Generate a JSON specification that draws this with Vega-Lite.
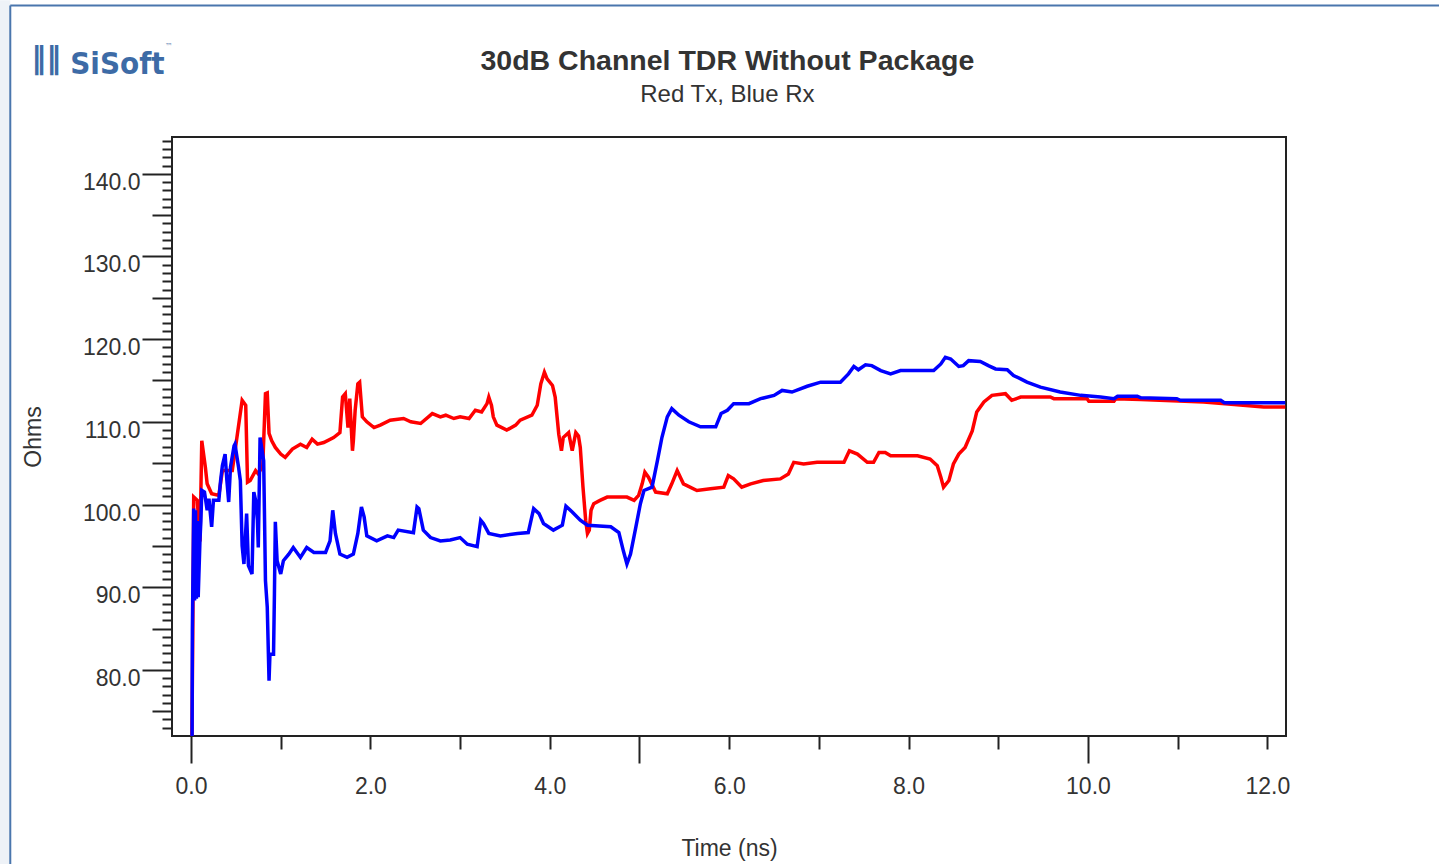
{
  "$schema": "https://vega.github.io/schema/vega-lite/v6.json",
  "width": 1114,
  "height": 599,
  "autosize": {"type": "none"},
  "padding": {"left": 172, "top": 137, "right": 153, "bottom": 128},
  "background": "#ffffff",
  "config": {"view": {"stroke": "#222222", "strokeWidth": 2}},
  "datasets": {
    "tx": [
      {"t": 0.01, "ohms": 72.0}, {"t": 0.02, "ohms": 85.0}, {"t": 0.03, "ohms": 100.9}, {"t": 0.07, "ohms": 100.5},
      {"t": 0.10, "ohms": 95.5}, {"t": 0.12, "ohms": 107.7}, {"t": 0.16, "ohms": 104.5}, {"t": 0.18, "ohms": 102.5},
      {"t": 0.23, "ohms": 101.3}, {"t": 0.31, "ohms": 101.1}, {"t": 0.35, "ohms": 104.1}, {"t": 0.46, "ohms": 104.1},
      {"t": 0.57, "ohms": 112.6}, {"t": 0.61, "ohms": 112.0}, {"t": 0.62, "ohms": 107.4}, {"t": 0.63, "ohms": 102.7},
      {"t": 0.66, "ohms": 102.9}, {"t": 0.72, "ohms": 104.1}, {"t": 0.75, "ohms": 103.7}, {"t": 0.80, "ohms": 104.7},
      {"t": 0.83, "ohms": 113.4}, {"t": 0.85, "ohms": 113.5}, {"t": 0.87, "ohms": 108.6}, {"t": 0.90, "ohms": 107.7},
      {"t": 0.94, "ohms": 106.9}, {"t": 1.00, "ohms": 106.1}, {"t": 1.05, "ohms": 105.7}, {"t": 1.13, "ohms": 106.7},
      {"t": 1.22, "ohms": 107.3}, {"t": 1.29, "ohms": 106.9}, {"t": 1.35, "ohms": 107.9}, {"t": 1.41, "ohms": 107.3},
      {"t": 1.48, "ohms": 107.5}, {"t": 1.59, "ohms": 108.1}, {"t": 1.66, "ohms": 108.7}, {"t": 1.69, "ohms": 113.0},
      {"t": 1.72, "ohms": 113.4}, {"t": 1.75, "ohms": 109.3}, {"t": 1.77, "ohms": 112.8}, {"t": 1.80, "ohms": 106.5},
      {"t": 1.81, "ohms": 107.7}, {"t": 1.83, "ohms": 111.4}, {"t": 1.86, "ohms": 114.6}, {"t": 1.88, "ohms": 114.8},
      {"t": 1.91, "ohms": 110.6}, {"t": 1.96, "ohms": 110.0}, {"t": 2.04, "ohms": 109.3}, {"t": 2.11, "ohms": 109.6},
      {"t": 2.22, "ohms": 110.2}, {"t": 2.37, "ohms": 110.4}, {"t": 2.45, "ohms": 110.0}, {"t": 2.56, "ohms": 109.8},
      {"t": 2.69, "ohms": 111.0}, {"t": 2.78, "ohms": 110.6}, {"t": 2.84, "ohms": 110.8}, {"t": 2.93, "ohms": 110.4},
      {"t": 3.00, "ohms": 110.6}, {"t": 3.10, "ohms": 110.4}, {"t": 3.17, "ohms": 111.4}, {"t": 3.24, "ohms": 111.2},
      {"t": 3.30, "ohms": 112.2}, {"t": 3.32, "ohms": 113.0}, {"t": 3.35, "ohms": 112.0}, {"t": 3.37, "ohms": 110.6},
      {"t": 3.41, "ohms": 109.6}, {"t": 3.52, "ohms": 109.0}, {"t": 3.62, "ohms": 109.6}, {"t": 3.67, "ohms": 110.2},
      {"t": 3.80, "ohms": 110.8}, {"t": 3.86, "ohms": 112.0}, {"t": 3.90, "ohms": 114.6}, {"t": 3.94, "ohms": 116.0},
      {"t": 3.97, "ohms": 115.2}, {"t": 4.03, "ohms": 114.4}, {"t": 4.06, "ohms": 113.0}, {"t": 4.10, "ohms": 108.5},
      {"t": 4.13, "ohms": 106.5}, {"t": 4.15, "ohms": 108.1}, {"t": 4.21, "ohms": 108.7}, {"t": 4.25, "ohms": 106.5},
      {"t": 4.29, "ohms": 108.7}, {"t": 4.32, "ohms": 108.3}, {"t": 4.34, "ohms": 106.9}, {"t": 4.37, "ohms": 102.1},
      {"t": 4.40, "ohms": 98.1}, {"t": 4.42, "ohms": 96.5}, {"t": 4.44, "ohms": 96.9}, {"t": 4.46, "ohms": 99.3},
      {"t": 4.49, "ohms": 100.1}, {"t": 4.56, "ohms": 100.5}, {"t": 4.64, "ohms": 100.9}, {"t": 4.86, "ohms": 100.9},
      {"t": 4.94, "ohms": 100.5}, {"t": 4.99, "ohms": 101.1}, {"t": 5.03, "ohms": 102.5}, {"t": 5.06, "ohms": 103.9},
      {"t": 5.10, "ohms": 103.3}, {"t": 5.18, "ohms": 101.5}, {"t": 5.31, "ohms": 101.3}, {"t": 5.36, "ohms": 102.5},
      {"t": 5.42, "ohms": 104.1}, {"t": 5.49, "ohms": 102.5}, {"t": 5.64, "ohms": 101.7}, {"t": 5.79, "ohms": 101.9},
      {"t": 5.94, "ohms": 102.1}, {"t": 5.99, "ohms": 103.5}, {"t": 6.05, "ohms": 103.1}, {"t": 6.14, "ohms": 102.1},
      {"t": 6.24, "ohms": 102.5}, {"t": 6.38, "ohms": 102.9}, {"t": 6.57, "ohms": 103.1}, {"t": 6.66, "ohms": 103.7},
      {"t": 6.72, "ohms": 105.1}, {"t": 6.83, "ohms": 104.9}, {"t": 6.98, "ohms": 105.1}, {"t": 7.28, "ohms": 105.1},
      {"t": 7.34, "ohms": 106.5}, {"t": 7.43, "ohms": 106.1}, {"t": 7.54, "ohms": 105.1}, {"t": 7.61, "ohms": 105.1},
      {"t": 7.67, "ohms": 106.3}, {"t": 7.74, "ohms": 106.3}, {"t": 7.80, "ohms": 105.9}, {"t": 8.10, "ohms": 105.9},
      {"t": 8.24, "ohms": 105.5}, {"t": 8.32, "ohms": 104.7}, {"t": 8.36, "ohms": 103.3}, {"t": 8.39, "ohms": 102.1},
      {"t": 8.45, "ohms": 102.9}, {"t": 8.50, "ohms": 104.9}, {"t": 8.56, "ohms": 106.1}, {"t": 8.63, "ohms": 106.9},
      {"t": 8.71, "ohms": 108.9}, {"t": 8.76, "ohms": 111.2}, {"t": 8.84, "ohms": 112.4}, {"t": 8.93, "ohms": 113.2},
      {"t": 9.08, "ohms": 113.4}, {"t": 9.15, "ohms": 112.6}, {"t": 9.25, "ohms": 113.0}, {"t": 9.58, "ohms": 113.0},
      {"t": 9.62, "ohms": 112.8}, {"t": 9.99, "ohms": 112.8}, {"t": 10.01, "ohms": 112.5}, {"t": 10.29, "ohms": 112.5},
      {"t": 10.31, "ohms": 112.8}, {"t": 10.59, "ohms": 112.7}, {"t": 11.29, "ohms": 112.4}, {"t": 11.63, "ohms": 112.1},
      {"t": 11.96, "ohms": 111.8}, {"t": 12.20, "ohms": 111.8}
    ],
    "rx": [
      {"t": 0.012, "ohms": 72.0}, {"t": 0.015, "ohms": 84.8}, {"t": 0.03, "ohms": 99.5}, {"t": 0.04, "ohms": 88.4},
      {"t": 0.05, "ohms": 99.3}, {"t": 0.06, "ohms": 88.6}, {"t": 0.07, "ohms": 98.0}, {"t": 0.08, "ohms": 88.8},
      {"t": 0.10, "ohms": 95.7}, {"t": 0.11, "ohms": 98.0}, {"t": 0.12, "ohms": 101.7}, {"t": 0.15, "ohms": 101.5},
      {"t": 0.18, "ohms": 99.3}, {"t": 0.20, "ohms": 100.7}, {"t": 0.23, "ohms": 97.3}, {"t": 0.25, "ohms": 100.5},
      {"t": 0.31, "ohms": 100.5}, {"t": 0.33, "ohms": 102.9}, {"t": 0.35, "ohms": 104.7}, {"t": 0.38, "ohms": 106.1},
      {"t": 0.40, "ohms": 102.9}, {"t": 0.42, "ohms": 100.3}, {"t": 0.44, "ohms": 104.5}, {"t": 0.48, "ohms": 107.1},
      {"t": 0.49, "ohms": 107.3}, {"t": 0.53, "ohms": 104.5}, {"t": 0.55, "ohms": 102.9}, {"t": 0.57, "ohms": 95.0},
      {"t": 0.59, "ohms": 92.8}, {"t": 0.61, "ohms": 96.8}, {"t": 0.62, "ohms": 98.9}, {"t": 0.64, "ohms": 92.6},
      {"t": 0.68, "ohms": 91.6}, {"t": 0.70, "ohms": 101.5}, {"t": 0.72, "ohms": 100.5}, {"t": 0.74, "ohms": 98.1},
      {"t": 0.75, "ohms": 94.8}, {"t": 0.77, "ohms": 108.1}, {"t": 0.81, "ohms": 105.3}, {"t": 0.83, "ohms": 90.8},
      {"t": 0.85, "ohms": 87.6}, {"t": 0.87, "ohms": 78.7}, {"t": 0.88, "ohms": 81.9}, {"t": 0.92, "ohms": 81.9},
      {"t": 0.93, "ohms": 89.2}, {"t": 0.94, "ohms": 97.9}, {"t": 0.96, "ohms": 93.2}, {"t": 1.00, "ohms": 91.6},
      {"t": 1.03, "ohms": 93.2}, {"t": 1.09, "ohms": 94.0}, {"t": 1.14, "ohms": 94.8}, {"t": 1.22, "ohms": 93.6},
      {"t": 1.29, "ohms": 94.8}, {"t": 1.37, "ohms": 94.2}, {"t": 1.50, "ohms": 94.2}, {"t": 1.55, "ohms": 95.6},
      {"t": 1.58, "ohms": 99.3}, {"t": 1.61, "ohms": 96.5}, {"t": 1.66, "ohms": 94.0}, {"t": 1.74, "ohms": 93.6},
      {"t": 1.81, "ohms": 94.0}, {"t": 1.86, "ohms": 96.5}, {"t": 1.90, "ohms": 99.7}, {"t": 1.93, "ohms": 98.5},
      {"t": 1.96, "ohms": 96.2}, {"t": 2.07, "ohms": 95.6}, {"t": 2.19, "ohms": 96.2}, {"t": 2.26, "ohms": 96.0},
      {"t": 2.31, "ohms": 96.9}, {"t": 2.48, "ohms": 96.6}, {"t": 2.52, "ohms": 99.7}, {"t": 2.54, "ohms": 99.5},
      {"t": 2.59, "ohms": 96.9}, {"t": 2.67, "ohms": 96.0}, {"t": 2.78, "ohms": 95.6}, {"t": 2.89, "ohms": 95.7},
      {"t": 3.00, "ohms": 96.0}, {"t": 3.08, "ohms": 95.2}, {"t": 3.19, "ohms": 94.9}, {"t": 3.23, "ohms": 98.1},
      {"t": 3.26, "ohms": 97.7}, {"t": 3.32, "ohms": 96.5}, {"t": 3.45, "ohms": 96.2}, {"t": 3.64, "ohms": 96.5},
      {"t": 3.76, "ohms": 96.6}, {"t": 3.82, "ohms": 99.5}, {"t": 3.88, "ohms": 98.9}, {"t": 3.93, "ohms": 97.7},
      {"t": 4.04, "ohms": 96.9}, {"t": 4.14, "ohms": 97.5}, {"t": 4.18, "ohms": 99.8}, {"t": 4.25, "ohms": 99.1},
      {"t": 4.34, "ohms": 98.1}, {"t": 4.42, "ohms": 97.5}, {"t": 4.68, "ohms": 97.3}, {"t": 4.77, "ohms": 96.6},
      {"t": 4.82, "ohms": 94.4}, {"t": 4.86, "ohms": 92.8}, {"t": 4.90, "ohms": 94.0}, {"t": 4.96, "ohms": 97.3},
      {"t": 5.01, "ohms": 100.1}, {"t": 5.05, "ohms": 101.7}, {"t": 5.14, "ohms": 102.1}, {"t": 5.20, "ohms": 105.3},
      {"t": 5.25, "ohms": 108.1}, {"t": 5.31, "ohms": 110.6}, {"t": 5.36, "ohms": 111.6}, {"t": 5.44, "ohms": 110.8},
      {"t": 5.55, "ohms": 110.0}, {"t": 5.68, "ohms": 109.4}, {"t": 5.85, "ohms": 109.4}, {"t": 5.91, "ohms": 111.0},
      {"t": 5.98, "ohms": 111.4}, {"t": 6.05, "ohms": 112.2}, {"t": 6.22, "ohms": 112.2}, {"t": 6.35, "ohms": 112.8},
      {"t": 6.50, "ohms": 113.2}, {"t": 6.59, "ohms": 113.8}, {"t": 6.70, "ohms": 113.6}, {"t": 6.87, "ohms": 114.3},
      {"t": 7.02, "ohms": 114.8}, {"t": 7.24, "ohms": 114.8}, {"t": 7.33, "ohms": 115.8}, {"t": 7.39, "ohms": 116.7},
      {"t": 7.44, "ohms": 116.3}, {"t": 7.52, "ohms": 116.9}, {"t": 7.59, "ohms": 116.8}, {"t": 7.69, "ohms": 116.2},
      {"t": 7.80, "ohms": 115.8}, {"t": 7.91, "ohms": 116.2}, {"t": 8.28, "ohms": 116.2}, {"t": 8.36, "ohms": 117.0},
      {"t": 8.41, "ohms": 117.8}, {"t": 8.47, "ohms": 117.6}, {"t": 8.56, "ohms": 116.7}, {"t": 8.61, "ohms": 116.8},
      {"t": 8.67, "ohms": 117.4}, {"t": 8.80, "ohms": 117.3}, {"t": 8.89, "ohms": 116.8}, {"t": 8.97, "ohms": 116.4},
      {"t": 9.10, "ohms": 116.3}, {"t": 9.17, "ohms": 115.6}, {"t": 9.25, "ohms": 115.2}, {"t": 9.32, "ohms": 114.8},
      {"t": 9.47, "ohms": 114.2}, {"t": 9.69, "ohms": 113.6}, {"t": 9.92, "ohms": 113.2}, {"t": 10.14, "ohms": 113.0},
      {"t": 10.29, "ohms": 112.8}, {"t": 10.33, "ohms": 113.1}, {"t": 10.55, "ohms": 113.1}, {"t": 10.59, "ohms": 112.9},
      {"t": 10.99, "ohms": 112.8}, {"t": 11.03, "ohms": 112.6}, {"t": 11.48, "ohms": 112.6}, {"t": 11.52, "ohms": 112.3},
      {"t": 12.20, "ohms": 112.3}
    ]
  },
  "layer": [
    {
      "data": {"values": [{}]},
      "mark": {"type": "rect", "fill": "#eef2f7"},
      "encoding": {
        "x": {"datum": -2.13, "type": "quantitative"},
        "x2": {"datum": -2.015},
        "y": {"datum": 161.0, "type": "quantitative"},
        "y2": {"datum": 56.4}
      }
    },
    {
      "data": {"values": [{}]},
      "mark": {"type": "rule", "color": "#4a76ad", "strokeWidth": 2},
      "encoding": {
        "x": {"datum": -2.015, "type": "quantitative"},
        "y": {"datum": 160.36, "type": "quantitative"},
        "y2": {"datum": 56.4}
      }
    },
    {
      "data": {"values": [{}]},
      "mark": {"type": "rule", "color": "#4a76ad", "strokeWidth": 2},
      "encoding": {
        "x": {"datum": -2.015, "type": "quantitative"},
        "x2": {"datum": 13.92},
        "y": {"datum": 160.36, "type": "quantitative"}
      }
    },
    {
      "data": {"name": "tx"},
      "mark": {"type": "line", "color": "#ff0000", "strokeWidth": 3.5, "clip": true},
      "encoding": {
        "x": {
          "field": "t",
          "type": "quantitative",
          "scale": {"domain": [-0.212, 12.208], "nice": false, "zero": false},
          "axis": {
            "values": [0, 1, 2, 3, 4, 5, 6, 7, 8, 9, 10, 11, 12],
            "tickCount": 200,
            "labelExpr": "datum.value % 2 === 0 ? format(datum.value, '.1f') : ''",
            "tickSize": {"condition": {"test": "datum.value % 5 === 0", "value": 27}, "value": 13},
            "labelPadding": {"condition": {"test": "datum.value % 5 === 0", "value": 30}, "value": 44},
            "labelBaseline": "alphabetic",
            "labelFont": "Liberation Sans",
            "labelFontSize": 23,
            "labelColor": "#333333",
            "labelFlush": false,
            "labelOverlap": false,
            "tickColor": "#222222",
            "tickWidth": 2,
            "domain": false,
            "grid": false,
            "title": "Time (ns)",
            "titleFont": "Liberation Sans",
            "titleFontSize": 23,
            "titleFontWeight": "normal",
            "titleColor": "#333333",
            "titleX": 557,
            "titleY": 112,
            "titleAlign": "center",
            "titleBaseline": "middle"
          }
        },
        "y": {
          "field": "ohms",
          "type": "quantitative",
          "scale": {"domain": [72, 144.45], "nice": false, "zero": false},
          "axis": {
            "values": [73, 74, 75, 76, 77, 78, 79, 80, 81, 82, 83, 84, 85, 86, 87, 88, 89, 90, 91, 92, 93, 94, 95, 96, 97, 98, 99, 100, 101, 102, 103, 104, 105, 106, 107, 108, 109, 110, 111, 112, 113, 114, 115, 116, 117, 118, 119, 120, 121, 122, 123, 124, 125, 126, 127, 128, 129, 130, 131, 132, 133, 134, 135, 136, 137, 138, 139, 140, 141, 142, 143, 144],
            "tickCount": 500,
            "labelExpr": "datum.value % 10 === 0 ? format(datum.value, '.1f') : ''",
            "tickSize": {"condition": [{"test": "datum.value % 10 === 0", "value": 30}, {"test": "datum.value % 5 === 0", "value": 20}], "value": 10},
            "labelPadding": 2,
            "labelBaseline": "alphabetic",
            "labelOffset": 15.5,
            "labelFont": "Liberation Sans",
            "labelFontSize": 23,
            "labelColor": "#333333",
            "labelFlush": false,
            "labelOverlap": false,
            "tickColor": "#222222",
            "tickWidth": 2,
            "domain": false,
            "grid": false,
            "title": "Ohms",
            "titleFont": "Liberation Sans",
            "titleFontSize": 23,
            "titleFontWeight": "normal",
            "titleColor": "#333333",
            "titleAngle": -90,
            "titleX": -139,
            "titleY": 299.5,
            "titleAlign": "center",
            "titleBaseline": "middle"
          }
        }
      }
    },
    {
      "data": {"name": "rx"},
      "mark": {"type": "line", "color": "#0000ff", "strokeWidth": 3.5, "clip": true},
      "encoding": {
        "x": {"field": "t", "type": "quantitative"},
        "y": {"field": "ohms", "type": "quantitative"}
      }
    },
    {
      "data": {"values": [{"heading": "30dB Channel TDR Without Package"}]},
      "mark": {"type": "text", "font": "Liberation Sans", "fontWeight": "bold", "fontSize": 28.5, "color": "#333333", "align": "center", "baseline": "alphabetic"},
      "encoding": {
        "x": {"datum": 5.98, "type": "quantitative"},
        "y": {"datum": 152.56, "type": "quantitative"},
        "text": {"field": "heading"}
      }
    },
    {
      "data": {"values": [{"note": "Red Tx, Blue Rx"}]},
      "mark": {"type": "text", "font": "Liberation Sans", "fontSize": 24, "color": "#333333", "align": "center", "baseline": "alphabetic"},
      "encoding": {
        "x": {"datum": 5.98, "type": "quantitative"},
        "y": {"datum": 148.66, "type": "quantitative"},
        "text": {"field": "note"}
      }
    },
    {
      "data": {"values": [{"glyph": "‖‖"}]},
      "mark": {"type": "text", "font": "DejaVu Sans", "fontWeight": "bold", "fontSize": 30, "color": "#3d6ba6", "align": "center", "baseline": "middle"},
      "encoding": {
        "x": {"datum": -1.613, "type": "quantitative"},
        "y": {"datum": 153.94, "type": "quantitative"},
        "text": {"field": "glyph"}
      }
    },
    {
      "data": {"values": [{"brand": "SiSoft"}]},
      "mark": {"type": "text", "font": "DejaVu Sans Condensed", "fontWeight": "bold", "fontSize": 31, "color": "#3d6ba6", "align": "left", "baseline": "alphabetic"},
      "encoding": {
        "x": {"datum": -1.346, "type": "quantitative"},
        "y": {"datum": 152.13, "type": "quantitative"},
        "text": {"field": "brand"}
      }
    },
    {
      "data": {"values": [{"mark": "™"}]},
      "mark": {"type": "text", "font": "DejaVu Sans", "fontSize": 8, "color": "#6d8db8", "align": "left", "baseline": "middle"},
      "encoding": {
        "x": {"datum": -0.29, "type": "quantitative"},
        "y": {"datum": 155.3, "type": "quantitative"},
        "text": {"field": "mark"}
      }
    }
  ]
}
